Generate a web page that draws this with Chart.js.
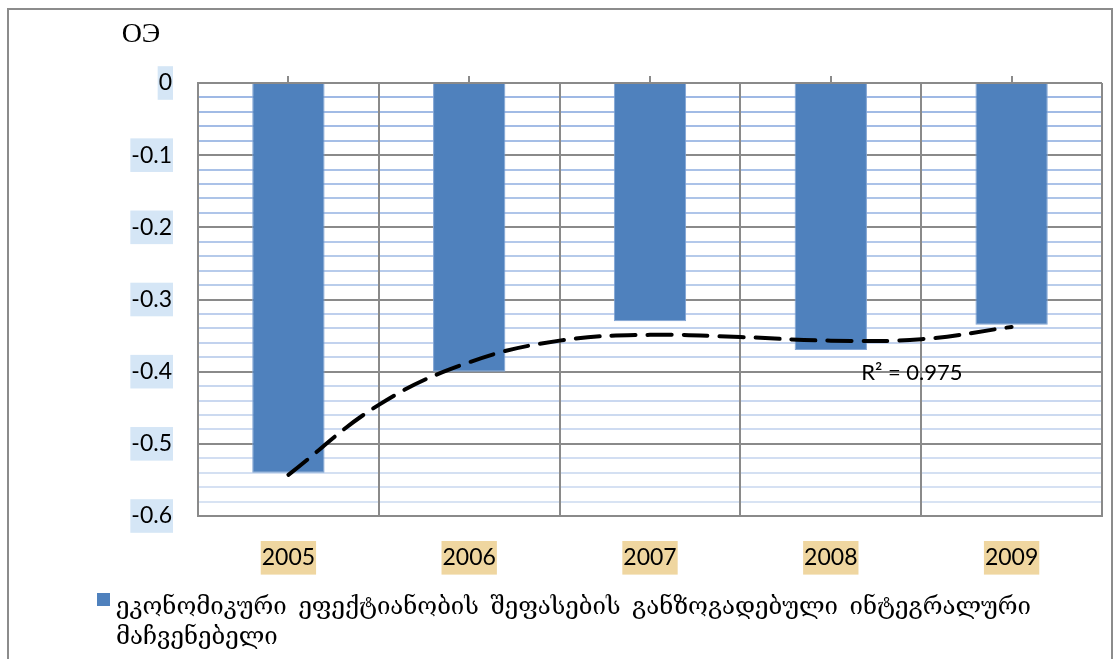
<!DOCTYPE html>
<html>
<head>
<meta charset="utf-8">
<title>ОЭ</title>
<script src="https://cdn.jsdelivr.net/npm/chart.js@4.4.1/dist/chart.umd.min.js"></script>
<style>
  html, body { margin: 0; padding: 0; background: #fff; }
  #wrap { position: relative; width: 1115px; height: 659px; overflow: hidden; }
  #frame { position: absolute; left: 7px; top: 8px; width: 1106px; height: 700px;
           border: 2px solid #8c8c8c; box-sizing: border-box; pointer-events: none; }
  #chart-box { position: absolute; left: 0; top: 0; width: 1115px; height: 659px; }
  #legend { position: absolute; left: 97px; top: 591px; width: 1000px; }
  #legend .item { display: flex; align-items: flex-start; }
  #legend .swatch { flex: none; width: 13px; height: 13px; margin-top: 2px; margin-right: 6px; }
  #legend .text { font-family: "DejaVu Serif", "DejaVu Sans", serif; font-size: 24px; line-height: 30px;
                  color: #000; word-spacing: 4px; }
</style>
</head>
<body>
<div id="wrap">
  <div id="chart-box"><canvas id="oe-chart"></canvas></div>
  <div id="legend"></div>
  <div id="frame"></div>
</div>
<script>
const years = ['2005', '2006', '2007', '2008', '2009'];
const oeValues = [-0.54, -0.40, -0.33, -0.37, -0.335];

// polynomial trend, read at whole and half years
const trendYears = [2005, 2005.5, 2006, 2006.5, 2007, 2007.5, 2008, 2008.5, 2009];
const trendValues = [-0.543, -0.446, -0.387, -0.357, -0.349, -0.352, -0.357, -0.355, -0.338];

const yLabels = [0, -0.1, -0.2, -0.3, -0.4, -0.5, -0.6];
const seriesName = 'ეკონომიკური ეფექტიანობის შეფასების განზოგადებული ინტეგრალური მაჩვენებელი';
const axisTitle = 'ОЭ';
const r2Label = 'R² = 0.975';

const GRAY = '#8a8a8a';

function isMajor(v) {
    return yLabels.some(t => Math.abs(t - v) < 1e-9);
}

function labelFor(v) {
    const t = yLabels.find(t => Math.abs(t - v) < 1e-9);
    return t === undefined ? '' : String(t);
}

// minor grid lines fade from a stronger blue at the top to a pale one at the bottom
function minorColor(v) {
    const f = Math.min(1, Math.max(0, -v / 0.6));
    const a = [157, 184, 228], b = [218, 228, 244];
    const c = a.map((x, i) => Math.round(x + (b[i] - x) * f));
    return `rgb(${c[0]},${c[1]},${c[2]})`;
}

const textPlugin = {
    id: 'oeText',
    afterDatasetsDraw(chart) {
        const ctx = chart.ctx;
        const xt = chart.scales.xt;
        const y = chart.scales.y;
        ctx.save();
        ctx.fillStyle = '#000';
        ctx.textBaseline = 'middle';

        ctx.font = '28px "Liberation Serif", serif';
        ctx.textAlign = 'center';
        ctx.fillText(axisTitle, chart.chartArea.left - 57, 35);

        ctx.font = '22px Lato, sans-serif';
        ctx.textAlign = 'left';
        ctx.fillText(r2Label, xt.getPixelForValue(2008.5) - 60, y.getPixelForValue(-0.4) + 1);
        ctx.restore();
    }
};

const htmlLegend = {
    id: 'htmlLegend',
    afterUpdate(chart) {
        const box = document.getElementById('legend');
        box.innerHTML = '';
        chart.data.datasets.filter(ds => ds.type === 'bar').forEach(ds => {
            const item = document.createElement('div');
            item.className = 'item';
            item.innerHTML = `<span class="swatch" style="background:${ds.backgroundColor}"></span>
                <span class="text">${ds.label}</span>`;
            box.appendChild(item);
        });
    }
};

new Chart(document.getElementById('oe-chart'), {
    data: {
        labels: years,
        datasets: [
            {
                type: 'line',
                label: 'trend',
                data: trendYears.map((x, i) => ({ x: x, y: trendValues[i] })),
                xAxisID: 'xt',
                yAxisID: 'y',
                borderColor: '#000',
                borderWidth: 4,
                borderDash: [24, 12],
                borderCapStyle: 'round',
                pointRadius: 0,
                tension: 0.4,
                fill: false,
                order: 0
            },
            {
                type: 'bar',
                label: seriesName,
                data: oeValues,
                xAxisID: 'x',
                yAxisID: 'y',
                backgroundColor: '#4f81bd',
                borderColor: '#7fa3d3',
                borderWidth: 1,
                barPercentage: 0.4,
                categoryPercentage: 1.0,
                grouped: false,
                order: 1
            }
        ]
    },
    options: {
        responsive: true,
        maintainAspectRatio: false,
        animation: false,
        layout: { padding: { left: 0, top: 0, right: 13, bottom: 0 } },
        plugins: {
            legend: { display: false },
            tooltip: { enabled: false },
            title: { display: false }
        },
        scales: {
            y: {
                min: -0.6,
                max: 0,
                grid: {
                    drawTicks: false,
                    color: ctx => isMajor(ctx.tick.value) ? GRAY : minorColor(ctx.tick.value),
                    lineWidth: 2
                },
                border: { color: GRAY, width: 2 },
                ticks: {
                    stepSize: 0.02,
                    autoSkip: false,
                    padding: 26,
                    color: '#000',
                    font: { family: 'Lato', size: 23 },
                    showLabelBackdrop: true,
                    backdropColor: ctx => isMajor(ctx.tick.value) ? '#d5e6f6' : 'rgba(0,0,0,0)',
                    backdropPadding: { top: 3, bottom: 3, left: 1, right: 1 },
                    callback: v => labelFor(v)
                },
                afterFit: s => { s.width = 198; }
            },
            x: {
                type: 'category',
                position: 'bottom',
                offset: true,
                grid: { offset: true, color: GRAY, lineWidth: 2, drawTicks: false },
                border: { color: GRAY, width: 2 },
                ticks: {
                    padding: 28,
                    color: '#000',
                    maxRotation: 0,
                    font: { family: 'Lato', size: 23 },
                    showLabelBackdrop: true,
                    backdropColor: '#efd6a0',
                    backdropPadding: { top: 3, bottom: 3, left: 1, right: 1 }
                },
                afterFit: s => { s.height = 143; }
            },
            xTop: {
                type: 'category',
                position: 'top',
                offset: true,
                grid: { offset: false, drawOnChartArea: false, drawTicks: true, tickLength: 7, color: GRAY, lineWidth: 2 },
                border: { display: false },
                ticks: { display: false },
                afterFit: s => { s.height = 83; }
            },
            xt: {
                type: 'linear',
                display: false,
                min: 2004.5,
                max: 2009.5
            }
        }
    },
    plugins: [textPlugin, htmlLegend]
});
</script>
</body>
</html>
